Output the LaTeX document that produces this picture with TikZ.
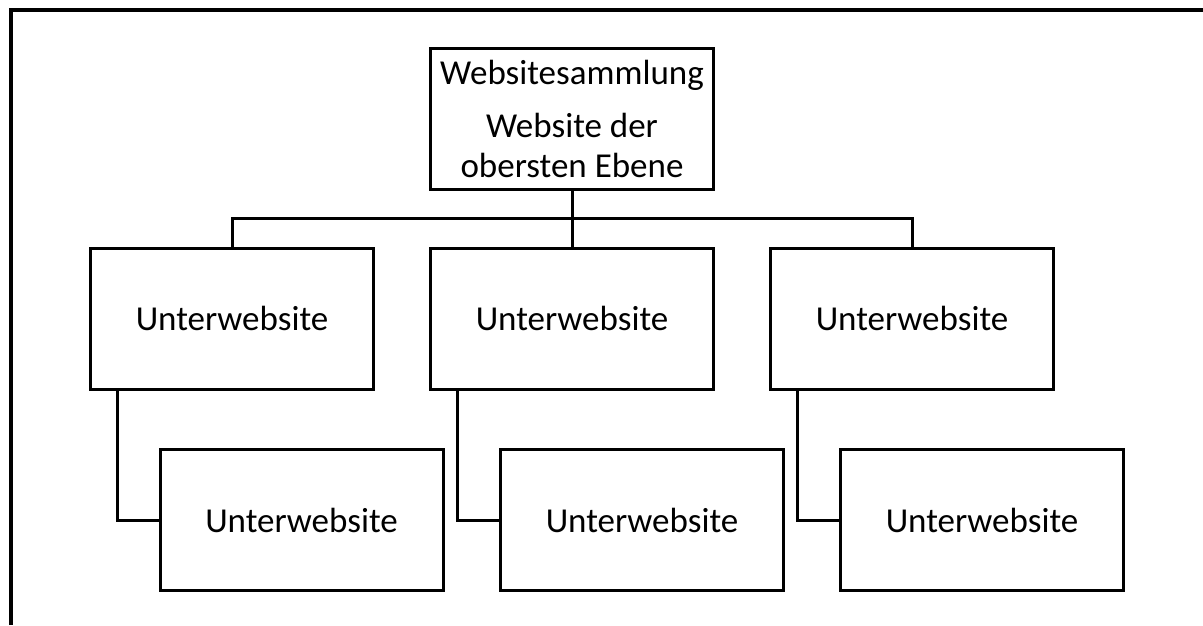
\documentclass[tikz,border=0pt]{standalone}
\usepackage{fontspec}
\setmainfont{Carlito}
\usepackage{tikz}
\usetikzlibrary{positioning}
\tikzstyle{site} = [draw, rectangle, line width=3pt,
    minimum height=141pt, minimum width=283pt, inner sep=0pt,
    font=\fontsize{35}{40}\selectfont]
\tikzstyle{link} = [line width=3pt]

\begin{document}
\begin{tikzpicture}[x=1pt, y=-1pt]
        \useasboundingbox (0,0) rectangle (1203,625);
        \draw[line width=4pt] (10.5,625) -- (10.5,9.5) -- (1203,9.5);

        \node[
            site,
            align=center
        ](samm) at (572,118.5){Websitesammlung\\[13pt]Website der\\obersten Ebene};

        \node[site](sub1) at (232,318.5){Unterwebsite};
        \node[site](sub2) at (572,318.5){Unterwebsite};
        \node[site](sub3) at (912,318.5){Unterwebsite};

        \node[site](unter1) at (301.5,520){Unterwebsite};
        \node[site](unter2) at (642,520){Unterwebsite};
        \node[site](unter3) at (982,520){Unterwebsite};

        \coordinate (bus) at (572,218);
        \draw[link] (samm.south) -- (sub2.north);
        \draw[link] (sub1.north) |- (bus) -| (sub3.north);
        \draw[link] ([xshift=28pt]sub1.south west) |- (unter1.west);
        \draw[link] ([xshift=28pt]sub2.south west) |- (unter2.west);
        \draw[link] ([xshift=28pt]sub3.south west) |- (unter3.west);
    \end{tikzpicture}
\end{document}
